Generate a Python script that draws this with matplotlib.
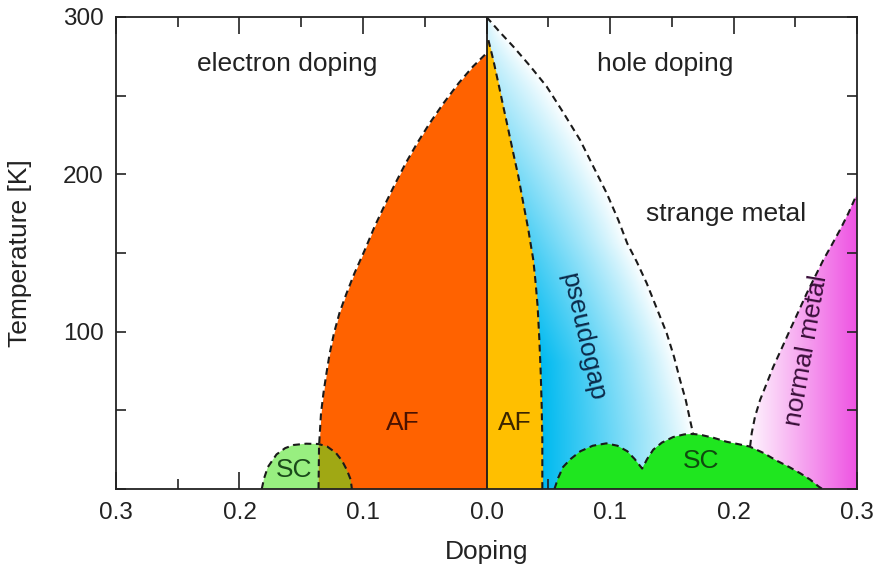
import numpy as np
import matplotlib
matplotlib.use("Agg")
import matplotlib.pyplot as plt
from matplotlib.patches import Polygon
from matplotlib.ticker import MultipleLocator, FuncFormatter

plt.rcParams['font.family'] = ['Liberation Sans', 'DejaVu Sans']

# electron-doped antiferromagnet boundary (doping, T)
af_e_x = [-0.136, -0.1356, -0.134, -0.132, -0.1295, -0.127, -0.1235, -0.119, -0.1135,
          -0.107, -0.0985, -0.0905, -0.0815, -0.074, -0.0655, -0.056, -0.046, -0.035,
          -0.0225, -0.011, 0.0]
af_e_t = [0, 27, 48, 61, 74, 86, 99, 112, 124,
          137, 152, 167, 182, 194, 207, 220, 232.5, 245,
          258, 268.5, 277]

# hole-doped antiferromagnet boundary
af_h_x = [0.0452, 0.0452, 0.0447, 0.0439, 0.0428, 0.0414, 0.0398, 0.0379, 0.0352,
          0.0339, 0.0298, 0.0258, 0.0217, 0.0177, 0.0136, 0.0096, 0.0055, 0.0015]
af_h_t = [0, 31, 52.3, 73.6, 94.7, 115.9, 130.8, 145.6, 158.3,
          164.7, 181.6, 198.6, 213.4, 228.2, 243.1, 257.9, 272.7, 285.4]

# pseudogap crossover line
pg_x = [0.0, 0.0109, 0.0217, 0.0352, 0.0487, 0.0622, 0.0757, 0.0865, 0.0973, 0.1067,
        0.114, 0.1216, 0.1297, 0.1378, 0.1459, 0.1518, 0.1567, 0.1613, 0.1648, 0.1675]
pg_t = [300, 290.3, 281.2, 268.9, 255.8, 239.2, 221.9, 204.9, 188, 171,
        156, 144.5, 130.8, 114.9, 99, 84.1, 69.3, 56.6, 43.9, 34.3]

# normal metal crossover line
nm_x = [0.2134, 0.2147, 0.2174, 0.2215, 0.2269, 0.2322, 0.239, 0.2457, 0.2525,
        0.2593, 0.266, 0.2727, 0.2795, 0.2862, 0.293, 0.2984]
nm_t = [26.9, 35.4, 46, 56.6, 67.2, 77.7, 89.4, 101.1, 112.7,
        124.4, 135, 145.6, 155.1, 164.7, 175.3, 184.8]

# superconducting domes
sc_e_x = [-0.182, -0.180, -0.177, -0.170, -0.163, -0.156, -0.146, -0.136,
          -0.129, -0.122, -0.117, -0.113, -0.110, -0.109]
sc_e_t = [0, 7, 14, 22, 26, 28, 28.8, 28.6, 27, 23, 18, 12, 6, 0]
sc_h_x = [0.055, 0.058, 0.062, 0.068, 0.076, 0.086, 0.097, 0.106, 0.114, 0.120, 0.126,
          0.130, 0.135, 0.142, 0.151, 0.160, 0.167, 0.173, 0.184, 0.1945, 0.204, 0.213,
          0.224, 0.235, 0.245, 0.254, 0.262, 0.269, 0.272]
sc_h_t = [0, 7, 14, 19, 24, 27.5, 29, 27.5, 24, 19, 13,
          19, 25, 29.5, 33, 34.7, 35, 34.5, 32.5, 30, 28.5, 27,
          23, 18, 14, 10, 6, 1.5, 0]

fig = plt.figure(figsize=(8.84, 5.70), dpi=100)
ax = fig.add_axes([0.1312, 0.1421, 0.8383, 0.8281])
ax.set_xlim(-0.3, 0.3)
ax.set_ylim(0, 300)

dash = (0, (3.3, 2.2))
lc = '#1a1a1a'

gx = np.linspace(0, 0.3, 400)
gt = np.linspace(0, 300, 400)
GX, GT = np.meshgrid(gx, gt)

# pseudogap gradient: deep blue at the AF edge fading to white at the crossover line
xa = np.interp(GT, af_h_t, af_h_x)
xp = np.interp(GT, pg_t[::-1], pg_x[::-1])
f = np.clip((GX - xa) / np.maximum(xp - xa, 1e-4), 0, 1)
g = np.clip(1 - np.maximum(GT - 80, 0) / 250, 0, 1)
inten = (1 - f) ** 0.9 * g
blue = np.array([0, 186, 240]) / 255
img = (1 - inten[..., None]) + blue * inten[..., None]
pg_poly = list(zip(af_h_x, af_h_t)) + list(zip(pg_x, pg_t)) + [(0.1675, 0)]
patch = Polygon(pg_poly, closed=True, facecolor='none', edgecolor='none', transform=ax.transData)
ax.add_patch(patch)
im = ax.imshow(img, extent=(0, 0.3, 0, 300), origin='lower', aspect='auto', zorder=1)
im.set_clip_path(patch)

# normal metal gradient, white on the left to magenta at the right edge
inten2 = np.clip((GX - 0.207) / 0.093, 0, 1)
pink = np.array([238, 82, 226]) / 255
img2 = (1 - inten2[..., None]) + pink * inten2[..., None]
nm_poly = [(0.2134, 0)] + list(zip(nm_x, nm_t)) + [(0.3, 187), (0.3, 0)]
patch2 = Polygon(nm_poly, closed=True, facecolor='none', edgecolor='none', transform=ax.transData)
ax.add_patch(patch2)
im2 = ax.imshow(img2, extent=(0, 0.3, 0, 300), origin='lower', aspect='auto', zorder=1)
im2.set_clip_path(patch2)

# antiferromagnetic regions
ax.fill_betweenx(af_e_t, af_e_x, 0, color='#ff6200', lw=0, zorder=2)
ax.fill_betweenx(af_h_t, 0, af_h_x, color='#ffbf00', lw=0, zorder=2)

# superconducting domes
ax.fill(sc_e_x[:8] + [-0.136], sc_e_t[:8] + [0], color='#98ef80', lw=0, zorder=3)
ax.fill(sc_e_x[7:] + [-0.136], sc_e_t[7:] + [0], color='#a0a814', lw=0, zorder=3)
ax.fill(sc_h_x, sc_h_t, color='#1fe61f', lw=0, zorder=3)

# boundaries
for bx, bt in [(af_e_x, af_e_t), (af_h_x, af_h_t), (pg_x, pg_t), (nm_x, nm_t),
               (sc_e_x, sc_e_t), (sc_h_x, sc_h_t)]:
    ax.plot(bx, bt, color=lc, lw=1.5, ls=dash, zorder=4)
ax.plot([0, 0], [0, 300], color=lc, lw=1.3, zorder=4)

# labels
fs = 19
ax.text(-0.161, 270, 'electron doping', fontsize=fs, ha='center', va='center', color='#222222')
ax.text(0.1445, 270, 'hole doping', fontsize=fs, ha='center', va='center', color='#222222')
ax.text(0.194, 175, 'strange metal', fontsize=fs, ha='center', va='center', color='#222222')
ax.text(0.078, 97, 'pseudogap', fontsize=fs, ha='center', va='center', rotation=-77,
        color='#0b2a4a', zorder=5)
ax.text(0.259, 88, 'normal metal', fontsize=fs, ha='center', va='center', rotation=80,
        color='#3a0f3a', zorder=5)
ax.text(-0.068, 42, 'AF', fontsize=fs, ha='center', va='center', color='#4a1200', zorder=5)
ax.text(0.023, 42, 'AF', fontsize=fs, ha='center', va='center', color='#3a2400', zorder=5)
ax.text(-0.156, 12, 'SC', fontsize=fs, ha='center', va='center', color='#1a4a1a', zorder=5)
ax.text(0.174, 18, 'SC', fontsize=fs, ha='center', va='center', color='#0f4a0f', zorder=5)

# axes styling
ax.xaxis.set_major_locator(MultipleLocator(0.1))
ax.xaxis.set_minor_locator(MultipleLocator(0.05))
ax.yaxis.set_major_locator(MultipleLocator(100))
ax.yaxis.set_minor_locator(MultipleLocator(50))
ax.xaxis.set_major_formatter(FuncFormatter(lambda v, p: '%.1f' % abs(v)))
ax.yaxis.set_major_formatter(FuncFormatter(lambda v, p: '' if v == 0 else '%d' % v))
ax.tick_params(axis='both', which='both', direction='in', top=True, right=True,
               color='#222222', width=1.2, labelsize=17.5, labelcolor='#222222', pad=9)
ax.tick_params(axis='x', which='major', length=12)
ax.tick_params(axis='x', which='minor', length=7.5)
ax.tick_params(axis='y', which='both', length=7)
for s in ax.spines.values():
    s.set_linewidth(1.3)
    s.set_color('#222222')
    s.set_zorder(6)

ax.set_xlabel('Doping', fontsize=fs, color='#222222', labelpad=12)
ax.set_ylabel('Temperature [K]', fontsize=fs, color='#222222', labelpad=22)

fig.savefig('out.png', dpi=100)
